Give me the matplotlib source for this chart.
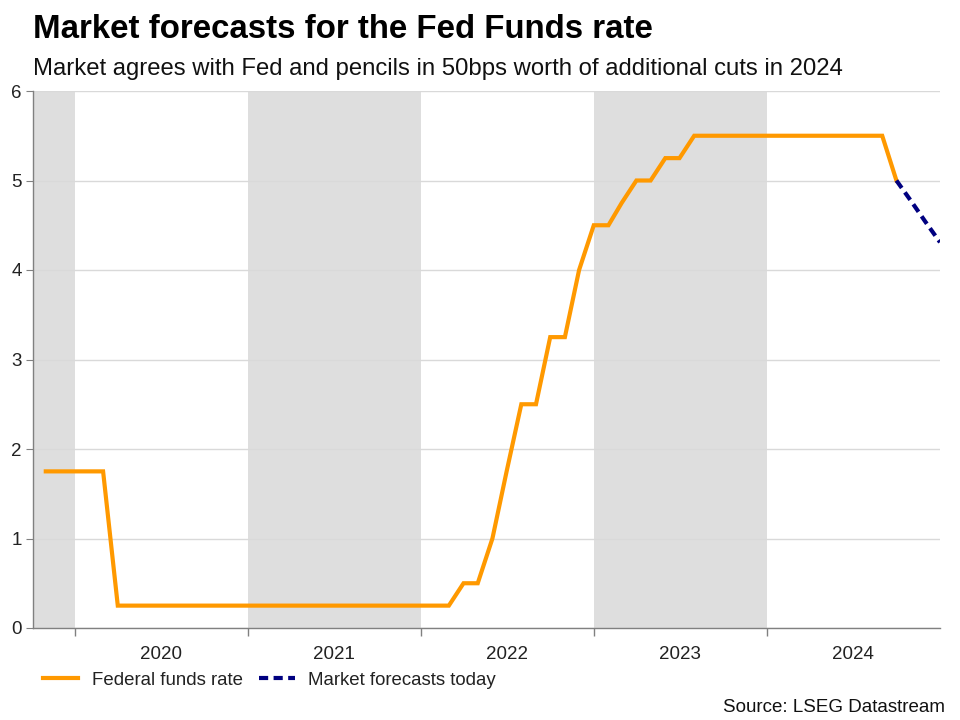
import numpy as np
import pandas as pd
import matplotlib
matplotlib.use("Agg")
import matplotlib.pyplot as plt
import matplotlib.dates as mdates
from matplotlib.lines import Line2D

plt.rcParams["font.family"] = ["Liberation Sans", "DejaVu Sans"]

# Fed funds upper bound, monthly (month-start stamps)
fed_months = pd.date_range("2019-11-01", "2024-10-01", freq="MS")
fed_rate = (
    [1.75, 1.75, 1.75, 1.75, 1.75, 0.25]          # Nov 2019 - Apr 2020
    + [0.25] * 23                                  # May 2020 - Mar 2022
    + [0.50, 0.50, 1.00, 1.75, 2.50, 2.50, 3.25, 3.25, 4.00]  # Apr - Dec 2022
    + [4.50, 4.50, 4.75, 5.00, 5.00, 5.25, 5.25]   # Jan - Jul 2023
    + [5.50] * 14                                  # Aug 2023 - Sep 2024
    + [5.00]                                       # Oct 2024
)

fc_months = pd.to_datetime(["2024-10-01", "2024-11-01", "2024-12-01", "2025-01-01"])
fc_rate = [5.00, 4.77, 4.54, 4.31]

years = [2020, 2021, 2022, 2023, 2024]
shaded_years = [2019, 2021, 2023]

fig = plt.figure(figsize=(9.6, 7.2), dpi=100)
ax = fig.add_axes([33 / 960, 1 - 628 / 720, (940 - 33) / 960, (628 - 91) / 720])

x_left = pd.Timestamp("2019-10-05")
x_right = pd.Timestamp("2025-01-01")

for yr in shaded_years:
    start = max(pd.Timestamp(f"{yr}-01-01"), x_left)
    ax.axvspan(start, pd.Timestamp(f"{yr + 1}-01-01"), color="#dedede", lw=0, zorder=0)

ax.plot(fed_months, fed_rate, color="#FF9900", lw=3, zorder=3,
        solid_joinstyle="miter")
ax.plot(fc_months, fc_rate, color="#000080", lw=3, ls=(0, (2.2, 1.3)), zorder=4)

ax.set_xlim(x_left, x_right)
ax.set_ylim(0, 6)
ax.set_yticks(range(0, 7))
ax.yaxis.grid(True, color="#d9d9d9", lw=1)
ax.set_axisbelow(True)

ax.set_xticks([pd.Timestamp(f"{y}-01-01") for y in years])
ax.set_xticklabels([])
ax.set_xticks([pd.Timestamp(f"{y}-07-02") for y in years], minor=True)
ax.set_xticklabels([str(y) for y in years], minor=True)
ax.tick_params(axis="x", which="major", length=6, color="#808080", width=1)
ax.tick_params(axis="x", which="minor", length=0, pad=13, labelsize=13.5, labelcolor="#222222")
ax.tick_params(axis="y", length=5, color="#808080", labelsize=13.5, labelcolor="#222222", pad=3)

for s in ["top", "right"]:
    ax.spines[s].set_visible(False)
for s in ["left", "bottom"]:
    ax.spines[s].set_color("#808080")
    ax.spines[s].set_linewidth(1)

fig.text(33 / 960, 1 - 38 / 720, "Market forecasts for the Fed Funds rate",
         fontsize=23.8, fontweight="bold", color="#000000")
fig.text(33 / 960, 1 - 75 / 720,
         "Market agrees with Fed and pencils in 50bps worth of additional cuts in 2024",
         fontsize=17.2, color="#111111")

handles = [Line2D([], [], color="#FF9900", lw=3),
           Line2D([], [], color="#000080", lw=3, ls=(0, (2.2, 1.3)))]
fig.legend(handles, ["Federal funds rate", "Market forecasts today"],
           loc="center left", bbox_to_anchor=(30 / 960, 1 - 680 / 720),
           ncol=2, frameon=False, fontsize=13.4, handlelength=1.9,
           columnspacing=0.85, handletextpad=0.75, labelcolor="#222222",
           borderpad=0.2)

fig.text(945 / 960, 1 - 707 / 720, "Source: LSEG Datastream", ha="right", va="center",
         fontsize=13.5, color="#111111")

fig.savefig("out.png", dpi=100)
